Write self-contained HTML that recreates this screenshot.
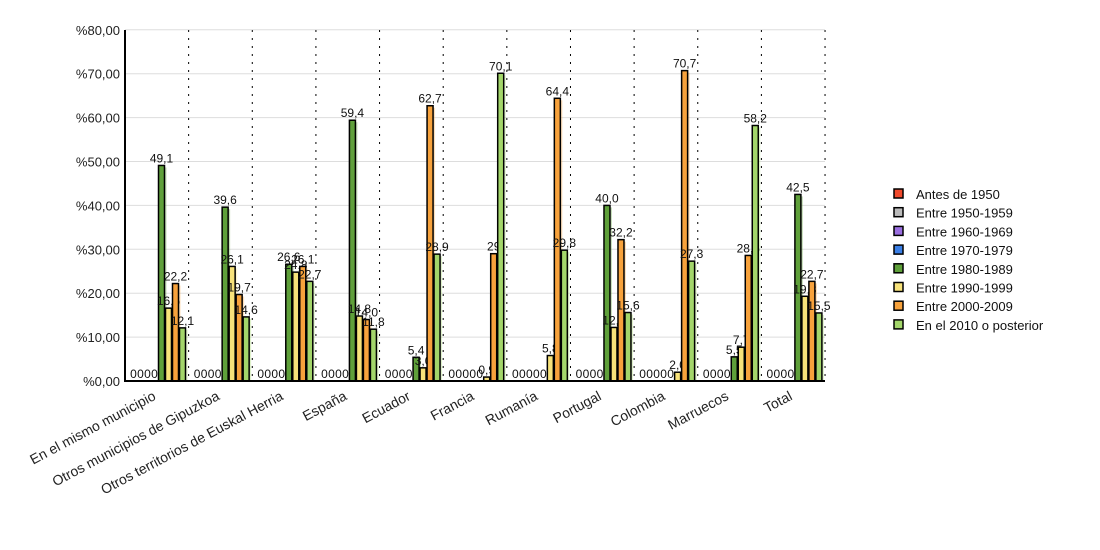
<!DOCTYPE html>
<html><head><meta charset="utf-8"><style>body{margin:0;background:#fff}svg{display:block;font-family:"Liberation Sans",sans-serif}</style></head><body>
<svg id="s" width="1100" height="550" xmlns="http://www.w3.org/2000/svg"></svg>
<script>
const s=document.getElementById('s');let h='';
const L=125,B=381,k=4.39,cw=63.64;
for(let i=0;i<=8;i++){const y=B-i*10*k;
 if(i>0)h+=`<line x1="${L}" x2="825" y1="${y}" y2="${y}" stroke="#ddd"/>`;
 h+=`<text x="120" y="${y+5}" font-size="13" text-anchor="end" fill="#222">%${i*10},00</text>`;}
for(let c=1;c<=11;c++){const x=L+c*cw;h+=`<line x1="${x}" x2="${x}" y1="30" y2="${B}" stroke="#000" stroke-dasharray="2,6"/>`;}
const cols=['#f04a2c','#bbb','#9a6ee0','#3a7fe6','#5fa03a','#f7e27a','#f7a23c','#a3d66a'];
const cats=['En el mismo municipio','Otros municipios de Gipuzkoa','Otros territorios de Euskal Herria','España','Ecuador','Francia','Rumanía','Portugal','Colombia','Marruecos','Total'];
const d=[[0,0,0,0,49.1,16.6,22.2,12.1],[0,0,0,0,39.6,26.1,19.7,14.6],[0,0,0,0,26.6,24.8,26.1,22.7],[0,0,0,0,59.4,14.8,14.0,11.8],[0,0,0,0,5.4,3.0,62.7,28.9],[0,0,0,0,0,0.9,29,70.1],[0,0,0,0,0,5.8,64.4,29.8],[0,0,0,0,40.0,12.2,32.2,15.6],[0,0,0,0,0,2.0,70.7,27.3],[0,0,0,0,5.5,7.7,28.6,58.2],[0,0,0,0,42.5,19.3,22.7,15.5]];
d.forEach((r,c)=>{const x0=L+c*cw+5.5;
 r.forEach((v,i)=>{const x=x0+i*7,hh=v*k,y=B-hh;
  if(v>0){h+=`<rect x="${x+2}" y="${y+2}" width="6" height="${hh-2}" fill="${cols[i]}" opacity=".35"/>`;
   h+=`<rect x="${x}" y="${y}" width="6" height="${hh}" fill="${cols[i]}" stroke="#000" stroke-width="1.5"/>`;}
  const lbl=v===0?'0':(v===29?'29':v.toFixed(1).replace('.',','));
  h+=`<text x="${x+3}" y="${y-3}" font-size="12" text-anchor="middle" fill="#111">${lbl}</text>`;});
 const cx=L+(c+0.5)*cw;
 h+=`<text transform="translate(${cx},${B+18}) rotate(-28)" font-size="14" text-anchor="end" fill="#222">${cats[c]}</text>`;});
h+=`<line x1="${L}" x2="${L}" y1="30" y2="${B+1}" stroke="#000" stroke-width="2"/><line x1="${L-1}" x2="825" y1="${B}" y2="${B}" stroke="#000" stroke-width="2"/>`;
const ln=['Antes de 1950','Entre 1950-1959','Entre 1960-1969','Entre 1970-1979','Entre 1980-1989','Entre 1990-1999','Entre 2000-2009','En el 2010 o posterior'];
ln.forEach((t,i)=>{const y=189+i*18.7;
 h+=`<rect x="894" y="${y}" width="9" height="9" fill="${cols[i]}" stroke="#000" stroke-width="1.5"/><text x="916" y="${y+10}" font-size="13" fill="#111">${t}</text>`;});
s.innerHTML=h;
</script>
</body></html>
